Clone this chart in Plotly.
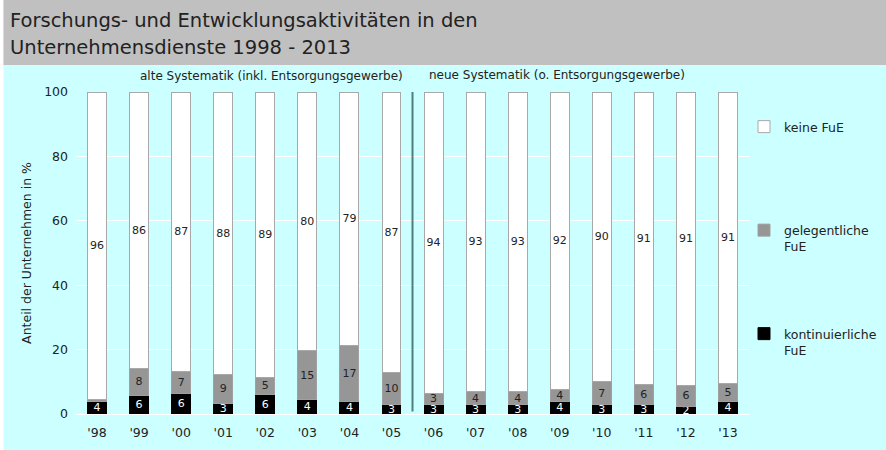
import plotly.graph_objects as go

# ---- data ----
years = ["'98", "'99", "'00", "'01", "'02", "'03", "'04", "'05",
         "'06", "'07", "'08", "'09", "'10", "'11", "'12", "'13"]
kontinuierlich = [4.0, 5.8, 6.3, 3.4, 6.0, 4.4, 4.0, 3.0, 3.0, 2.8, 2.8, 3.8, 3.0, 2.8, 2.4, 4.0]
gelegentlich   = [0.4, 8.4, 7.0, 8.9, 5.4, 15.4, 17.4, 9.8, 3.4, 4.3, 4.3, 3.8, 7.0, 6.3, 6.4, 5.4]
keine          = [95.6, 85.8, 86.7, 87.7, 88.6, 80.2, 78.6, 87.2, 93.6, 92.9, 92.9, 92.4, 90.0, 90.9, 91.2, 90.6]
y_ticks = [0, 20, 40, 60, 80, 100]
last_old = "'05"

title_l1 = "Forschungs- und Entwicklungsaktivitäten in den"
title_l2 = "Unternehmensdienste 1998 - 2013"
note_old = "alte Systematik (inkl. Entsorgungsgewerbe)"
note_new = "neue Systematik (o. Entsorgungsgewerbe)"

FONT = "DejaVu Sans, Verdana, sans-serif"
CYAN = "#CCFFFF"
GRAY_BAND = "#C0C0C0"
TXT = "#222222"
FS = 12.5
FS_BAR = 11

W, H = 886, 450
L, R, T, B = 76, 137, 92, 36
PW, PH = W - L - R, H - T - B


def px_x(p):
    return (p - L) / PW


def px_y(p):
    return (H - B - p) / PH


def lab(vals):
    return [f"{v:.0f}" if v >= 1 else "" for v in vals]


fig = go.Figure()
common = dict(width=0.45, textposition="inside", insidetextanchor="middle",
              constraintext="none", textangle=0, cliponaxis=False)
fig.add_trace(go.Bar(x=years, y=kontinuierlich, name="kontinuierliche<br>FuE",
                     text=lab(kontinuierlich),
                     marker=dict(color="#000000", line=dict(color="#000000", width=1)),
                     textfont=dict(color="white", size=FS_BAR, family=FONT),
                     legendgroup="k", legendrank=3, **common))
fig.add_trace(go.Bar(x=years, y=gelegentlich, name="gelegentliche<br>FuE",
                     text=lab(gelegentlich),
                     marker=dict(color="#969696", line=dict(color="#A0A0A0", width=1)),
                     textfont=dict(color=TXT, size=FS_BAR, family=FONT),
                     legendgroup="g", legendrank=2, **common))
fig.add_trace(go.Bar(x=years, y=keine, name="keine FuE<br>&nbsp;",
                     text=lab(keine),
                     marker=dict(color="#FFFFFF", line=dict(color="#A8A8A8", width=1)),
                     textfont=dict(color=TXT, size=FS_BAR, family=FONT),
                     legendgroup="n", legendrank=1, **common))

sep_x = years.index(last_old) + 0.5

fig.update_layout(
    width=W, height=H,
    margin=dict(l=L, r=R, t=T, b=B, autoexpand=False),
    barmode="stack",
    paper_bgcolor=CYAN,
    plot_bgcolor=CYAN,
    font=dict(family=FONT, size=FS, color=TXT),
    showlegend=True,
    legend=dict(x=px_x(744), xanchor="left", y=px_y(112), yanchor="top",
                bgcolor="rgba(0,0,0,0)", traceorder="grouped",
                tracegroupgap=68, valign="top",
                font=dict(family=FONT, size=FS, color=TXT)),
    xaxis=dict(type="category", showgrid=False, zeroline=False, showline=False,
               ticks="", ticklabelstandoff=9,
               tickfont=dict(size=FS, color=TXT)),
    yaxis=dict(range=[0, 100], tickvals=y_ticks, showgrid=True,
               gridcolor="white", gridwidth=1, zeroline=True, zerolinecolor="white",
               zerolinewidth=1, showline=False, ticks="", ticklabelstandoff=7,
               tickfont=dict(size=FS, color=TXT),
               title=dict(text="Anteil der Unternehmen in %", standoff=9,
                          font=dict(size=FS, color=TXT))),
    shapes=[
        dict(type="rect", xref="paper", yref="paper", x0=px_x(0), x1=px_x(3.5),
             y0=px_y(H), y1=px_y(0), fillcolor="white", line_width=0, layer="below"),
        dict(type="rect", xref="paper", yref="paper", x0=px_x(3.5), x1=px_x(W),
             y0=px_y(65), y1=px_y(0), fillcolor=GRAY_BAND, line_width=0, layer="below"),
        dict(type="line", xref="x", yref="y", x0=sep_x, x1=sep_x, y0=0.8, y1=100,
             line=dict(color="#4F7F7F", width=2)),
    ],
    annotations=[
        dict(text=title_l1, xref="paper", yref="paper", x=px_x(8), y=px_y(21),
             xanchor="left", yanchor="middle", showarrow=False,
             font=dict(size=19.5, color="#222222", family=FONT)),
        dict(text=title_l2, xref="paper", yref="paper", x=px_x(8), y=px_y(48),
             xanchor="left", yanchor="middle", showarrow=False,
             font=dict(size=19.5, color="#222222", family=FONT)),
        dict(text=note_old, xref="paper", yref="paper", x=px_x(271.5), y=px_y(76),
             xanchor="center", yanchor="middle", showarrow=False,
             font=dict(size=12, color=TXT, family=FONT)),
        dict(text=note_new, xref="paper", yref="paper", x=px_x(556.5), y=px_y(75),
             xanchor="center", yanchor="middle", showarrow=False,
             font=dict(size=12, color=TXT, family=FONT)),
    ],
)

fig.write_html("out.html", config={"displayModeBar": False},
               post_script="document.body.style.margin='0px';")
